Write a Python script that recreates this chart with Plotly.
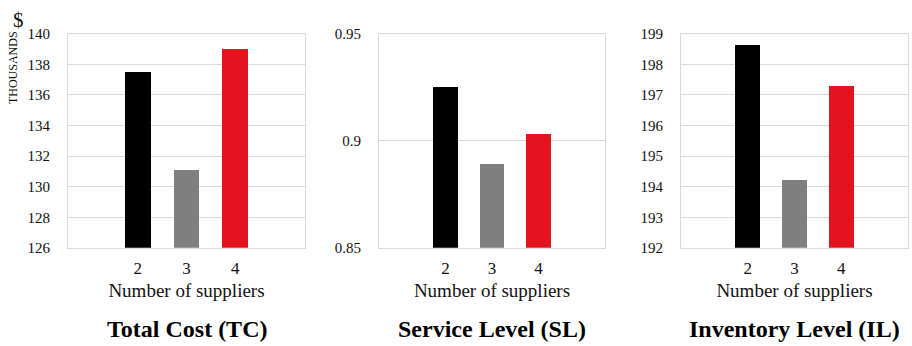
import plotly.graph_objects as go

# Number of suppliers on the x axis
suppliers = [2, 3, 4]
supplier_labels = ["2", "3", "4"]
bar_colors = ["#000000", "#7f7f7f", "#e3131f"]

# Results per number of suppliers
total_cost = [137.5, 131.1, 139.0]          # thousands of $
service_level = [0.9252, 0.8895, 0.9031]
inventory_level = [198.64, 194.24, 197.30]

panel_titles = ["Total Cost (TC)", "Service Level (SL)", "Inventory Level (IL)"]
y_ranges = [[126, 140], [0.85, 0.95], [192, 199]]
y_dticks = [2, 0.05, 1]

W, H = 912, 346
FONT = "Liberation Serif"
GRID = "#d9d9d9"

# plot-area edges in pixels: (left, right)
x_edges = [(68, 305), (379, 605), (681, 908)]
y_top, y_bottom = 27, 251.5

fig = go.Figure()
series = [total_cost, service_level, inventory_level]
for i, values in enumerate(series):
    n = "" if i == 0 else str(i + 1)
    fig.add_trace(go.Bar(
        x=suppliers, y=values, width=0.53,
        marker=dict(color=bar_colors, line=dict(width=0)),
        xaxis="x" + n, yaxis="y" + n, showlegend=False,
    ))
    l, r = x_edges[i]
    fig.layout["xaxis" + n] = dict(
        domain=[l / W, r / W], range=[0.57, 5.43],
        tickvals=suppliers, ticktext=supplier_labels,
        showgrid=False, zeroline=False,
        showline=True, linecolor=GRID, linewidth=1, mirror=True,
        ticks="", ticklabelstandoff=5,
        tickfont=dict(family=FONT, size=17, color="#111111"),
        title=dict(text="Number of suppliers", standoff=6,
                   font=dict(family=FONT, size=19, color="#111111")),
        anchor="y" + n, fixedrange=True,
    )
    fig.layout["yaxis" + n] = dict(
        domain=[1 - y_bottom / H, 1 - y_top / H], range=y_ranges[i],
        dtick=y_dticks[i], showgrid=True, gridcolor=GRID, gridwidth=1,
        zeroline=False, showline=True, linecolor=GRID, linewidth=1, mirror=True,
        ticks="", ticklabelstandoff=14,
        tickfont=dict(family=FONT, size=15, color="#111111"),
        anchor="x" + n, fixedrange=True,
    )
    fig.add_annotation(
        text="<b>" + panel_titles[i] + "</b>", xref="paper", yref="paper",
        x=(l + r) / 2 / W, y=1 - 337 / H, xanchor="center", yanchor="middle",
        showarrow=False, font=dict(family=FONT, size=24, color="#000000"),
    )

# unit label for the cost panel
fig.add_annotation(
    text="THOUSANDS", xref="paper", yref="paper", x=13 / W, y=1 - 63 / H,
    textangle=-90, xanchor="center", yanchor="middle", showarrow=False,
    font=dict(family=FONT, size=12, color="#111111"),
)
fig.add_annotation(
    text="$", xref="paper", yref="paper", x=18 / W, y=1 - 13 / H,
    xanchor="center", yanchor="middle", showarrow=False,
    font=dict(family=FONT, size=21, color="#111111"),
)

fig.update_layout(
    width=W, height=H, margin=dict(l=0, r=0, t=0, b=0),
    paper_bgcolor="white", plot_bgcolor="white", bargap=0,
    font=dict(family=FONT),
)

fig.write_html("out.html")
